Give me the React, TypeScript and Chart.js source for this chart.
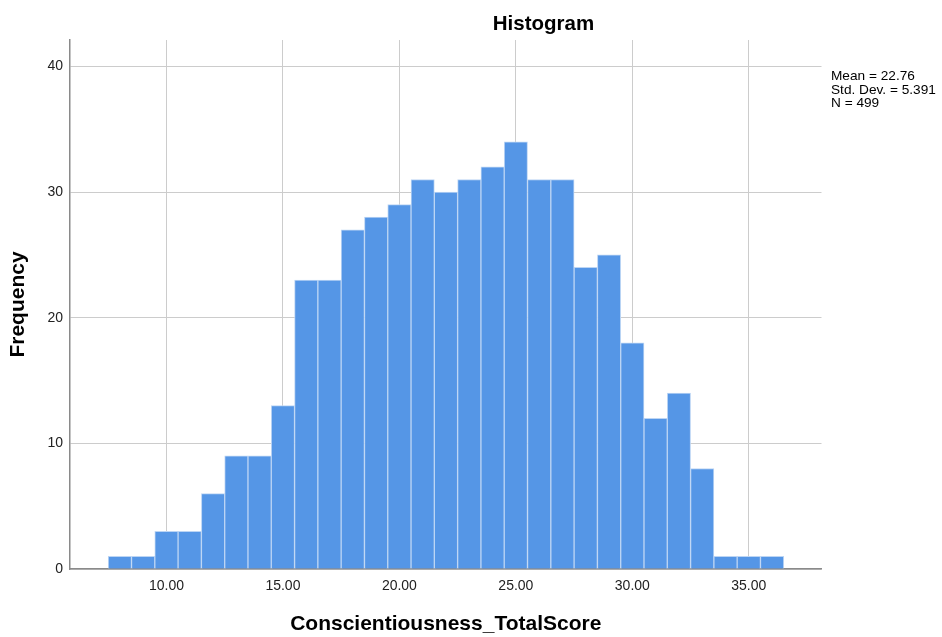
import React, { useEffect, useRef } from "react";
import { Chart, registerables } from "chart.js";

Chart.register(...registerables);

const binCenters = [8, 9, 10, 11, 12, 13, 14, 15, 16, 17, 18, 19, 20, 21, 22, 23, 24, 25, 26, 27, 28, 29, 30, 31, 32, 33, 34, 35, 36];
const frequencies = [1, 1, 3, 3, 6, 9, 9, 13, 23, 23, 27, 28, 29, 31, 30, 31, 32, 34, 31, 31, 24, 25, 18, 12, 14, 8, 1, 1, 1];
const xTickValues = [10, 15, 20, 25, 30, 35];
const yTickValues = [0, 10, 20, 30, 40];
const chartTitle = "Histogram";
const xTitle = "Conscientiousness_TotalScore";
const yTitle = "Frequency";
const statsLines = ["Mean = 22.76", "Std. Dev. = 5.391", "N = 499"];

const FONT = "'Liberation Sans', Arial, sans-serif";

const textPlugin = {
  id: "spssText",
  afterDraw(chart: any) {
    const ctx = chart.ctx;
    ctx.save();
    ctx.fillStyle = "#000";
    ctx.font = `bold 20.5px ${FONT}`;
    ctx.textAlign = "center";
    ctx.textBaseline = "alphabetic";
    ctx.fillText(chartTitle, 543.5, 30);
    ctx.restore();

    ctx.save();
    ctx.fillStyle = "#000";
    ctx.font = `13px ${FONT}`;
    ctx.textAlign = "left";
    ctx.textBaseline = "alphabetic";
    ctx.translate(831, 0);
    ctx.scale(1.05, 1);
    statsLines.forEach((line, i) => {
      ctx.fillText(line, 0, 80 + i * 13.5);
    });
    ctx.restore();
  },
};

export default function App() {
  const canvasRef = useRef<HTMLCanvasElement | null>(null);

  useEffect(() => {
    if (!canvasRef.current) return;
    const chart = new Chart(canvasRef.current, {
      type: "bar",
      data: {
        datasets: [
          {
            data: binCenters.map((x, i) => ({ x, y: frequencies[i] })),
            backgroundColor: "#5596e6",
            borderColor: "#bcd5f4",
            borderWidth: 1,
            barPercentage: 1,
            categoryPercentage: 1,
          },
        ],
      },
      options: {
        responsive: false,
        animation: false,
        layout: { padding: { left: 0, top: 40, right: 120.5, bottom: 0 } },
        plugins: {
          legend: { display: false },
          tooltip: { enabled: false },
        },
        scales: {
          x: {
            type: "linear",
            min: 5.86,
            max: 38.12,
            offset: false,
            afterBuildTicks: (scale: any) => {
              scale.ticks = xTickValues.map((v) => ({ value: v }));
            },
            afterFit: (scale: any) => {
              scale.height = 68;
            },
            ticks: {
              callback: (v: any) => Number(v).toFixed(2),
              font: { family: FONT, size: 14 },
              color: "#222",
              padding: 9,
              maxRotation: 0,
              autoSkip: false,
            },
            grid: { color: "#cccccc", lineWidth: 1, drawTicks: false, offset: false },
            border: { color: "#8a8a8a", width: 1.5 },
            title: {
              display: true,
              text: xTitle,
              font: { family: FONT, size: 21, weight: "bold" },
              color: "#000",
              padding: { top: 0, bottom: 0 },
            },
          },
          y: {
            type: "linear",
            min: 0,
            max: 42.1,
            afterBuildTicks: (scale: any) => {
              scale.ticks = yTickValues.map((v) => ({ value: v }));
            },
            afterFit: (scale: any) => {
              scale.width = 70;
            },
            ticks: {
              font: { family: FONT, size: 14 },
              color: "#222",
              padding: 7,
              autoSkip: false,
            },
            grid: { color: "#cccccc", lineWidth: 1, drawTicks: false },
            border: { color: "#8a8a8a", width: 1.5 },
            title: {
              display: true,
              text: yTitle,
              font: { family: FONT, size: 21, weight: "bold" },
              color: "#000",
              padding: { top: 6, bottom: 0 },
            },
          },
        },
      },
      plugins: [textPlugin],
    } as any);
    return () => chart.destroy();
  }, []);

  return (
    <div style={{ position: "absolute", left: 0, top: 0, width: 942, height: 637, background: "#fff" }}>
      <canvas ref={canvasRef} width={942} height={637} style={{ display: "block" }} />
    </div>
  );
}
